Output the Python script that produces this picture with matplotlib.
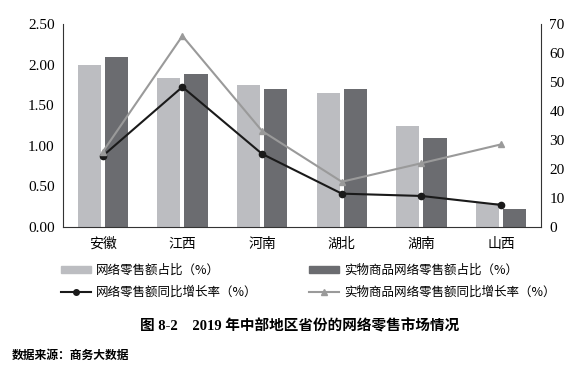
import matplotlib
matplotlib.use("Agg")
import matplotlib.pyplot as plt
import numpy as np
from matplotlib.patches import Patch
from matplotlib.lines import Line2D

plt.rcParams['font.family'] = ['Liberation Serif', 'Noto Sans CJK SC', 'DejaVu Sans']

provinces = ["安徽", "江西", "河南", "湖北", "湖南", "山西"]
online_share = [1.99, 1.83, 1.75, 1.65, 1.24, 0.30]
goods_share = [2.09, 1.88, 1.70, 1.70, 1.10, 0.22]
online_growth = [24.5, 48.3, 25.2, 11.5, 10.7, 7.6]
goods_growth = [25.9, 65.9, 33.1, 15.6, 22.0, 28.5]

left_ticks = [0, 0.5, 1.0, 1.5, 2.0, 2.5]
right_ticks = [0, 10, 20, 30, 40, 50, 60, 70]

light = "#bcbdc1"
dark = "#6b6c70"
black = "#1a1a1a"
grayline = "#9a9a9a"
num_font = ['Liberation Serif', 'DejaVu Serif']
cjk = ['Noto Sans CJK SC']

fig = plt.figure(figsize=(5.82, 3.78), dpi=100)
ax = fig.add_axes([0.108, 0.3995, 0.8216, 0.537])
x = np.arange(len(provinces))
w = 0.29
ax.bar(x - 0.17, online_share, w, color=light)
ax.bar(x + 0.17, goods_share, w, color=dark)
ax.set_xlim(-0.5, 5.5)
ax.set_ylim(0, 2.5)
ax.set_yticks(left_ticks)
ax.set_yticklabels([f"{v:.2f}" for v in left_ticks], fontsize=11, family=num_font)
ax.set_xticks(x)
ax.set_xticklabels(provinces, fontsize=10, family=cjk)
ax.tick_params(length=0, pad=6)
ax.tick_params(axis='x', pad=7)
ax.spines['top'].set_visible(False)
ax.spines['right'].set_visible(False)
for s in ['left', 'bottom']:
    ax.spines[s].set_color('#333333')

ax2 = ax.twinx()
ax2.plot(x, online_growth, color=black, marker='o', markersize=4.5, lw=1.5)
ax2.plot(x, goods_growth, color=grayline, marker='^', markersize=5, lw=1.5)
ax2.set_ylim(0, 70)
ax2.set_yticks(right_ticks)
ax2.set_yticklabels([str(v) for v in right_ticks], fontsize=11, family=num_font)
ax2.tick_params(length=0, pad=6)
ax2.spines['top'].set_visible(False)
ax2.spines['left'].set_visible(False)
ax2.spines['bottom'].set_visible(False)
ax2.spines['right'].set_color('#333333')

h_light = Patch(color=light, label="网络零售额占比（%）")
h_dark = Patch(color=dark, label="实物商品网络零售额占比（%）")
h_black = Line2D([], [], color=black, marker='o', markersize=4, lw=1.5, label="网络零售额同比增长率（%）")
h_gray = Line2D([], [], color=grayline, marker='^', markersize=4, lw=1.5, label="实物商品网络零售额同比增长率（%）")

leg_kw = dict(loc='upper left', frameon=False, handlelength=2.4, handleheight=0.55,
              handletextpad=0.4, labelspacing=0.75, borderaxespad=0, borderpad=0,
              prop={'family': cjk, 'size': 9})
fig.legend(handles=[h_light, h_black], bbox_to_anchor=(0.105, 0.302), **leg_kw)
fig.legend(handles=[h_dark, h_gray], bbox_to_anchor=(0.531, 0.302), **leg_kw)

fig.text(0.515, 0.1376, "图 8-2　2019 年中部地区省份的网络零售市场情况", ha='center', va='center',
         fontsize=10.5, fontweight='bold', family=['Liberation Serif', 'Noto Sans CJK SC'])
fig.text(0.02, 0.06, "数据来源：商务大数据", ha='left', va='center',
         fontsize=8.5, fontweight='bold', family=cjk)

fig.savefig("out.png", dpi=100)
